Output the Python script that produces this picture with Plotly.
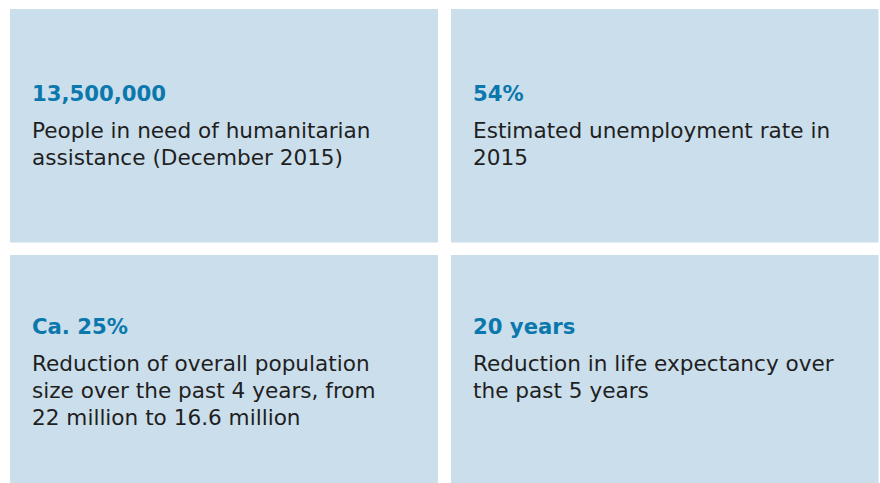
import plotly.graph_objects as go

# ---- data ----
values = ["13,500,000", "54%", "Ca. 25%", "20 years"]
descriptions = [
    ["People in need of humanitarian", "assistance (December 2015)"],
    ["Estimated unemployment rate in", "2015"],
    ["Reduction of overall population", "size over the past 4 years, from", "22 million to 16.6 million"],
    ["Reduction in life expectancy over", "the past 5 years"],
]

# ---- layout constants ----
W, H = 880, 483
col_x = [(10, 438), (451, 878.5)]
row_y = [(9, 242.5), (255, 495)]
title_baseline = [101, 334]   # per row
text_left_pad = 21
desc_first_offset = 36.8
line_gap = 27.2

box_fill = "#cbdeeb"
title_color = "#0b78ad"
text_color = "#1f1f1f"
title_font = dict(family="DejaVu Sans", size=21.2, color=title_color)
desc_font = dict(family="DejaVu Sans", size=21.6, color=text_color)

fig = go.Figure()
fig.add_trace(go.Scatter(x=[0, W], y=[0, H], mode="markers",
                         marker=dict(opacity=0), hoverinfo="skip", showlegend=False))

shapes = []
annotations = []
for i, (val, lines) in enumerate(zip(values, descriptions)):
    r, c = divmod(i, 2)
    x0, x1 = col_x[c]
    y0, y1 = row_y[r]
    shapes.append(dict(type="rect", xref="x", yref="y", x0=x0, x1=x1, y0=y0, y1=y1,
                       fillcolor=box_fill, line=dict(width=0), layer="below"))
    tx = x0 + text_left_pad
    tb = title_baseline[r]
    annotations.append(dict(x=tx, y=tb - 7.3, xref="x", yref="y", text="<b>%s</b>" % val,
                            showarrow=False, xanchor="left", yanchor="middle",
                            font=title_font, borderpad=0))
    for k, ln in enumerate(lines):
        bl = tb + desc_first_offset + k * line_gap
        annotations.append(dict(x=tx, y=bl - 7.5, xref="x", yref="y", text=ln,
                                showarrow=False, xanchor="left", yanchor="middle",
                                font=desc_font, borderpad=0))

fig.update_layout(
    width=W, height=H,
    margin=dict(l=0, r=0, t=0, b=0),
    paper_bgcolor="white", plot_bgcolor="white",
    xaxis=dict(range=[0, W], visible=False, fixedrange=True),
    yaxis=dict(range=[H, 0], visible=False, fixedrange=True),
    shapes=shapes, annotations=annotations,
    showlegend=False,
)

fig.write_html("out.html", config={"displayModeBar": False},
               post_script="document.body.style.margin='0';document.body.style.overflow='hidden';")
